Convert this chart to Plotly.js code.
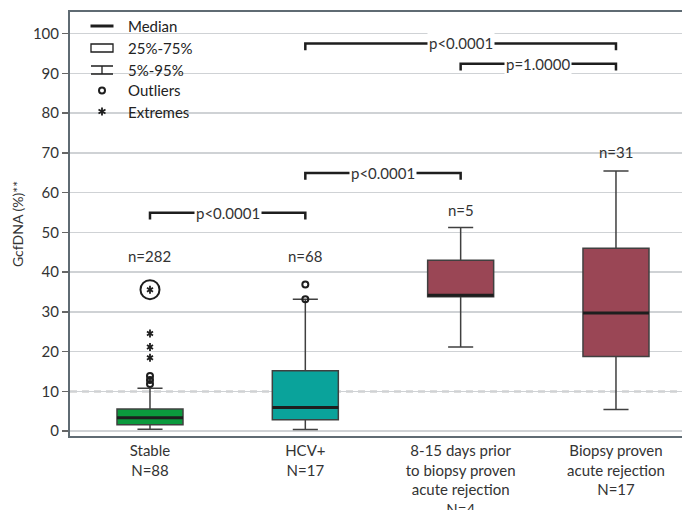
<!DOCTYPE html>
<html><head><meta charset="utf-8">
<script src="https://cdn.plot.ly/plotly-3.0.1.min.js"></script>
<style>html,body{margin:0;padding:0;background:#fff}#chart{width:682px;height:510px}</style>
</head><body><div id="chart"></div>
<script>
// ---- data ----
const categories = ['Stable<br>N=88', 'HCV+<br>N=17', '8-15 days prior<br>to biopsy proven<br>acute rejection<br>N=4', 'Biopsy proven<br>acute rejection<br>N=17'];
const q1 = [1.6, 2.9, 33.8, 18.8];
const median = [3.4, 5.95, 34.2, 29.7];
const q3 = [5.6, 15.2, 43.0, 46.0];
const p5 = [0.5, 0.45, 21.2, 5.45];
const p95 = [10.8, 33.2, 51.2, 65.4];
const boxColors = ['#0b9a3d', '#0aa39b', '#9a4655', '#9a4655'];
const nLabels = ['n=282', 'n=68', 'n=5', 'n=31'];
const nLabelY = [44, 44, 55.7, 70.3];
const outlierGroup = [0, 0, 0, 1, 1];
const outlierValues = [11.9, 12.9, 13.9, 33.2, 36.9];
const extremeGroup = [0, 0, 0];
const extremeValues = [18.5, 21.2, 24.6];
const circledGroup = [0];
const circledValues = [35.6];
const bracketFrom = [0, 1, 1, 2];
const bracketTo = [1, 2, 3, 3];
const bracketY = [54.9, 64.9, 97.5, 92.4];
const bracketLabels = ['p<0.0001', 'p<0.0001', 'p<0.0001', 'p=1.0000'];
const threshold = 10;
const legendLabels = ['Median', '25%-75%', '5%-95%', 'Outliers', 'Extremes'];

// ---- styling ----
const BOXW = 0.425;
const INK = '#1e1e1e';
const TXT = '#333333';
const traces = [];

categories.forEach((c, i) => {
  traces.push({
    type: 'box', x: [i], q1: [q1[i]], median: [median[i]], q3: [q3[i]],
    lowerfence: [p5[i]], upperfence: [p95[i]],
    fillcolor: boxColors[i], line: {color: '#404040', width: 1.5},
    width: BOXW, whiskerwidth: 0.38, boxpoints: false,
    showlegend: false, hoverinfo: 'skip'
  });
});

// thick median bars
const mx = [], my = [];
median.forEach((m, i) => { mx.push(i - BOXW / 2, i + BOXW / 2, null); my.push(m, m, null); });
traces.push({type: 'scatter', mode: 'lines', x: mx, y: my, line: {color: INK, width: 3}, showlegend: false, hoverinfo: 'skip'});

// outliers
traces.push({type: 'scatter', mode: 'markers', x: outlierGroup, y: outlierValues,
  marker: {symbol: 'circle-open', size: 6, color: INK, line: {width: 2, color: INK}}, showlegend: false, hoverinfo: 'skip'});
// extremes (6-armed asterisk)
['y-up-open', 'y-down-open'].forEach(s => {
  traces.push({type: 'scatter', mode: 'markers', x: extremeGroup.concat(circledGroup), y: extremeValues.concat(circledValues),
    marker: {symbol: s, size: 5, color: INK, line: {width: 1.8, color: INK}}, showlegend: false, hoverinfo: 'skip'});
});
traces.push({type: 'scatter', mode: 'markers', x: circledGroup, y: circledValues,
  marker: {symbol: 'circle-open', size: 19, color: INK, line: {width: 2, color: INK}}, showlegend: false, hoverinfo: 'skip'});

// brackets
const bx = [], by = [];
bracketFrom.forEach((f, k) => {
  const t = bracketTo[k], y = bracketY[k];
  bx.push(f, f, t, t, null); by.push(y - 1.7, y, y, y - 1.7, null);
});
traces.push({type: 'scatter', mode: 'lines', x: bx, y: by, line: {color: INK, width: 2.5}, showlegend: false, hoverinfo: 'skip'});

const annotations = [];
bracketLabels.forEach((t, k) => annotations.push({
  x: (bracketFrom[k] + bracketTo[k]) / 2, y: bracketY[k], text: t, showarrow: false,
  bgcolor: '#ffffff', borderpad: 1, font: {size: 15, color: TXT}
}));
nLabels.forEach((t, i) => annotations.push({
  x: i, y: nLabelY[i], text: t, showarrow: false, font: {size: 15, color: TXT}
}));

// threshold line
const shapes = [
  {type: 'line', xref: 'paper', x0: 0, x1: 1, yref: 'y', y0: threshold, y1: threshold, layer: 'between', line: {color: '#ffffff', width: 2.5}},
  {type: 'line', xref: 'paper', x0: 0, x1: 1, yref: 'y', y0: threshold, y1: threshold, layer: 'between', line: {color: '#777777', width: 1.4, dash: '7px,5px'}}
];

// custom key (top-left)
const PL = 70, PW = 612, PT = 12, PH = 424;
const iconX = (102 - PL) / PW, textX = (126 - PL) / PW;
const rowPx = [26, 48, 70, 90.5, 111.5];
const rowY = rowPx.map(p => (PT + PH - p) / PH);
const iconBase = i => ({xref: 'paper', yref: 'paper', xsizemode: 'pixel', ysizemode: 'pixel', xanchor: iconX, yanchor: rowY[i], layer: 'above'});
shapes.push(Object.assign(iconBase(0), {type: 'line', x0: -11.5, x1: 11.5, y0: 0, y1: 0, line: {color: INK, width: 3}}));
shapes.push(Object.assign(iconBase(1), {type: 'rect', x0: -11, x1: 11, y0: -4, y1: 4, fillcolor: '#ffffff', line: {color: INK, width: 1.3}}));
shapes.push(Object.assign(iconBase(2), {type: 'path', path: 'M-11,4L11,4M0,4L0,-4M-11,-4L11,-4', line: {color: INK, width: 1.3}}));
shapes.push(Object.assign(iconBase(3), {type: 'circle', x0: -3, x1: 3, y0: -3, y1: 3, line: {color: INK, width: 2}}));
shapes.push(Object.assign(iconBase(4), {type: 'path', path: 'M0,4L0,-4M-3.5,2L3.5,-2M-3.5,-2L3.5,2', line: {color: INK, width: 1.8}}));
legendLabels.forEach((t, i) => annotations.push({
  xref: 'paper', yref: 'paper', x: textX, y: rowY[i], xanchor: 'left', yanchor: 'middle',
  text: t, showarrow: false, font: {size: 15, color: '#222'}
}));

const layout = {
  width: 682, height: 510,
  margin: {l: PL, r: 0, t: PT, b: 510 - PT - PH},
  paper_bgcolor: '#ffffff', plot_bgcolor: '#ffffff',
  font: {family: 'Lato, "Liberation Sans", sans-serif', color: TXT},
  boxmode: 'overlay', showlegend: false, hovermode: false,
  xaxis: {
    range: [-0.515, 3.425], tickvals: [0, 1, 2, 3], ticktext: categories,
    showgrid: false, zeroline: false, showline: true, mirror: true,
    linecolor: '#5f6b73', linewidth: 2, ticks: '', tickfont: {size: 15, color: TXT}
  },
  yaxis: {
    range: [-1.2, 105.4], tick0: 0, dtick: 10,
    ticks: 'outside', ticklen: 6, tickcolor: '#666', tickwidth: 1.5,
    showgrid: true, gridcolor: '#cfd2d5', gridwidth: 1.5, zeroline: false,
    showline: true, linecolor: '#5f6b73', linewidth: 2,
    tickfont: {size: 15, color: TXT},
    title: {text: 'GcfDNA (%)**', font: {size: 14, color: TXT}, standoff: 6}
  },
  shapes: shapes, annotations: annotations
};

Plotly.newPlot('chart', traces, layout, {displayModeBar: false, staticPlot: true});
</script>
</body></html>
